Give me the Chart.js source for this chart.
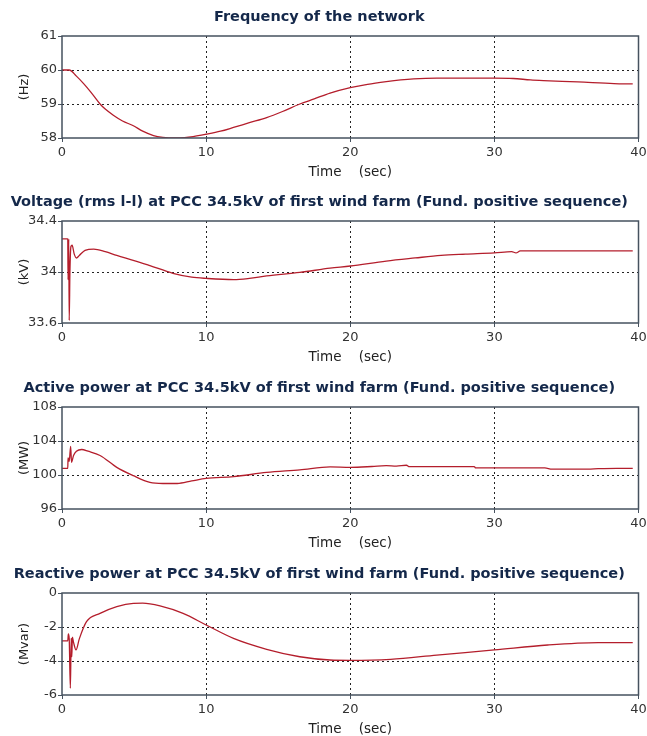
<!DOCTYPE html>
<html>
<head>
<meta charset="utf-8">
<script src="https://cdn.jsdelivr.net/npm/chart.js@4/dist/chart.umd.min.js"></script>
<style>
  body { margin: 0; background: #fff; overflow: hidden; }
  #wrap { position: relative; width: 647px; height: 736px; }
  .panel { position: absolute; left: 0; width: 647px; height: 186px; }
</style>
</head>
<body>
<div id="wrap">
  <div class="panel" style="top:0px"><canvas id="c1"></canvas></div>
  <div class="panel" style="top:185px"><canvas id="c2"></canvas></div>
  <div class="panel" style="top:371px"><canvas id="c3"></canvas></div>
  <div class="panel" style="top:557px"><canvas id="c4"></canvas></div>
</div>
<script>
// shared time axis
var timeTicks = [0, 10, 20, 30, 40];

// frequency of the network (Hz)
var freqTime = [0, 0.5, 1, 1.5, 2, 2.64, 3, 3.56, 4.2, 4.95, 5.6, 6.35, 7, 7.8, 8.5, 9.1, 10, 11, 11.9, 13, 14.2, 15.3, 16.5, 17.5, 18.6, 20, 21.2, 22.5, 23.5, 24.4, 26, 28, 30, 31.3, 32.5, 33.4, 35.8, 38.3, 39.6];
var freqValues = [60.0, 60.0, 59.82, 59.6, 59.35, 59.0, 58.85, 58.67, 58.5, 58.36, 58.2, 58.07, 58.02, 58.0, 58.01, 58.04, 58.11, 58.2, 58.31, 58.45, 58.6, 58.78, 59.0, 59.15, 59.32, 59.48, 59.58, 59.66, 59.71, 59.74, 59.76, 59.76, 59.76, 59.75, 59.71, 59.69, 59.65, 59.6, 59.59];
var freqTicks = [58, 59, 60, 61];

// voltage at PCC (kV)
var voltTime = [0, 0.4, 0.42, 0.47, 0.5, 0.55, 0.62, 0.7, 0.85, 1.0, 1.2, 1.6, 2.2, 3.0, 3.8, 5.0, 6.1, 7.7, 9.0, 10, 11.9, 13, 14.2, 16.5, 18.6, 20, 22.5, 24.5, 26.3, 28, 30, 31.2, 31.5, 31.8, 34, 37, 39.6];
var voltValues = [34.26, 34.26, 33.94, 34.26, 33.62, 34.0, 34.2, 34.21, 34.14, 34.11, 34.13, 34.17, 34.18, 34.16, 34.13, 34.09, 34.05, 33.99, 33.96, 33.95, 33.94, 33.95, 33.97, 33.997, 34.03, 34.047, 34.086, 34.11, 34.13, 34.14, 34.15, 34.16, 34.15, 34.165, 34.165, 34.165, 34.165];
var voltTicks = [33.6, 34, 34.4];

// active power at PCC (MW)
var pTime = [0, 0.4, 0.42, 0.5, 0.6, 0.66, 0.8, 1.0, 1.37, 1.8, 2.64, 3.8, 4.95, 6.1, 7.0, 8.0, 9.0, 10, 11.9, 14.2, 16.5, 18.6, 20, 21.5, 22.5, 23.2, 23.9, 24.1, 26, 28.6, 28.7, 31, 33.5, 34, 35, 36.5, 37.2, 38.5, 39.6];
var pValues = [100.79, 100.79, 102.0, 101.6, 103.37, 101.5, 102.3, 102.8, 103.0, 102.8, 102.3, 100.9, 99.92, 99.13, 99.0, 99.0, 99.3, 99.6, 99.8, 100.3, 100.6, 100.95, 100.9, 101.0, 101.1, 101.05, 101.15, 100.98, 100.98, 100.98, 100.84, 100.84, 100.84, 100.68, 100.7, 100.68, 100.74, 100.79, 100.79];
var pTicks = [96, 100, 104, 108];

// reactive power at PCC (Mvar)
var qTime = [0, 0.4, 0.44, 0.5, 0.58, 0.64, 0.68, 0.72, 0.8, 0.97, 1.2, 1.7, 2.64, 3.8, 4.95, 5.6, 6.8, 8.4, 10, 11.9, 14.2, 16.5, 18.6, 20, 22.8, 26, 30, 33.7, 37.2, 39.6];
var qValues = [-2.82, -2.82, -2.41, -2.7, -5.6, -2.65, -3.75, -2.6, -2.9, -3.35, -2.7, -1.69, -1.2, -0.8, -0.61, -0.6, -0.76, -1.2, -1.88, -2.67, -3.31, -3.75, -3.94, -3.96, -3.9, -3.65, -3.35, -3.06, -2.92, -2.92];
var qTicks = [-6, -4, -2, 0];

var titles = [
  'Frequency of the network',
  'Voltage (rms l-l) at PCC 34.5kV of first wind farm (Fund. positive sequence)',
  'Active power at PCC 34.5kV of first wind farm (Fund. positive sequence)',
  'Reactive power at PCC 34.5kV of first wind farm (Fund. positive sequence)'
];

var frame = {
  id: 'frame',
  afterDraw: function (chart) {
    var a = chart.chartArea, ctx = chart.ctx;
    ctx.save();
    ctx.strokeStyle = '#46525f';
    ctx.lineWidth = 1.5;
    ctx.strokeRect(a.left, a.top, a.right - a.left, a.bottom - a.top);
    ctx.restore();
  }
};

function toPoints(xs, ys) {
  return xs.map(function (x, i) { return {x: x, y: ys[i]}; });
}

function fmt(v) {
  return String(Math.round(v * 10) / 10);
}

function makeChart(id, title, unit, xs, ys, yTicks) {
  var yMin = yTicks[0], yMax = yTicks[yTicks.length - 1];
  new Chart(document.getElementById(id).getContext('2d'), {
    type: 'line',
    data: {
      datasets: [{
        data: toPoints(xs, ys),
        borderColor: '#b41e2c',
        borderWidth: 1.3,
        pointRadius: 0,
        cubicInterpolationMode: 'monotone',
        fill: false
      }]
    },
    options: {
      responsive: true,
      maintainAspectRatio: false,
      animation: false,
      events: [],
      layout: { padding: { left: 0, right: 8.5, top: 0, bottom: 0 } },
      plugins: {
        legend: { display: false },
        tooltip: { enabled: false },
        title: {
          display: true,
          text: title,
          color: '#14284a',
          font: { family: 'DejaVu Sans', size: 14.5, weight: 'bold' },
          padding: { top: 8.3, bottom: 10.3 }
        }
      },
      scales: {
        x: {
          type: 'linear',
          min: 0,
          max: 40,
          afterBuildTicks: function (s) { s.ticks = timeTicks.map(function (v) { return {value: v}; }); },
          afterFit: function (s) { s.height = 48; s.paddingRight = 0; s.paddingLeft = 0; },
          ticks: {
            color: '#333',
            padding: 2.5,
            maxRotation: 0,
            font: { family: 'DejaVu Sans', size: 13 }
          },
          grid: {
            color: function (c) { return (c.tick && (c.tick.value === 0 || c.tick.value === 40)) ? 'rgba(0,0,0,0)' : '#222'; },
            tickColor: '#46525f',
            tickLength: 4,
            lineWidth: 1
          },
          border: { display: false, dash: [2, 3] },
          title: {
            display: true,
            text: 'Time    (sec)',
            color: '#222',
            font: { family: 'DejaVu Sans', size: 13.5 },
            padding: { top: 2, bottom: 5 }
          }
        },
        y: {
          type: 'linear',
          min: yMin,
          max: yMax,
          afterBuildTicks: function (s) { s.ticks = yTicks.map(function (v) { return {value: v}; }); },
          afterFit: function (s) { s.width = 62; },
          ticks: {
            color: '#333',
            padding: 1,
            font: { family: 'DejaVu Sans', size: 13 },
            callback: function (v) { return fmt(v); }
          },
          grid: {
            color: function (c) { return (c.tick && (c.tick.value === yMin || c.tick.value === yMax)) ? 'rgba(0,0,0,0)' : '#222'; },
            tickColor: '#46525f',
            tickLength: 4,
            lineWidth: 1
          },
          border: { display: false, dash: [2, 3] },
          title: {
            display: true,
            text: unit,
            color: '#222',
            font: { family: 'DejaVu Sans', size: 13 },
            padding: { top: 17, bottom: 0 }
          }
        }
      }
    },
    plugins: [frame]
  });
}

makeChart('c1', titles[0], '(Hz)', freqTime, freqValues, freqTicks);
makeChart('c2', titles[1], '(kV)', voltTime, voltValues, voltTicks);
makeChart('c3', titles[2], '(MW)', pTime, pValues, pTicks);
makeChart('c4', titles[3], '(Mvar)', qTime, qValues, qTicks);
</script>
</body>
</html>
